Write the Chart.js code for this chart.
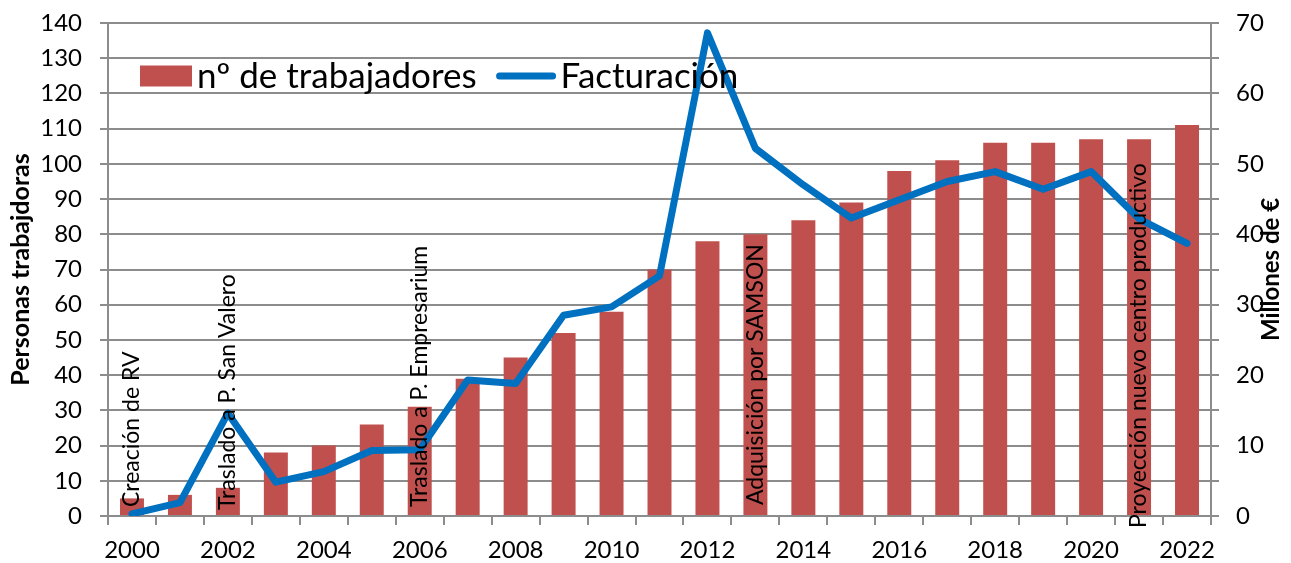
<!DOCTYPE html>
<html>
<head>
<meta charset="utf-8">
<script src="https://cdn.jsdelivr.net/npm/chart.js@4/dist/chart.umd.min.js"></script>
<style>
  html, body { margin: 0; padding: 0; background: #ffffff; }
  #wrap { width: 1291px; height: 563px; }
</style>
</head>
<body>
<div id="wrap"><canvas id="c" width="1291" height="563"></canvas></div>
<script>
// ---- data ----
const years = ['2000','2001','2002','2003','2004','2005','2006','2007','2008','2009','2010','2011',
               '2012','2013','2014','2015','2016','2017','2018','2019','2020','2021','2022'];
const trabajadores = [5, 6, 8, 18, 20, 26, 31, 39, 45, 52, 58, 70, 78, 80, 84, 89, 98, 101, 106, 106, 107, 107, 111];
const facturacion = [0.3, 1.9, 14.6, 4.8, 6.3, 9.3, 9.4, 19.3, 18.8, 28.5, 29.7, 34.1, 68.6, 52.2, 47.0, 42.3, 44.9, 47.5, 48.9, 46.4, 48.9, 42.2, 38.7];
const hitosYears = ['2000', '2002', '2006', '2013', '2021'];
const hitosTexts = ['Creación de RV', 'Traslado a P. San Valero', 'Traslado a P. Empresarium', 'Adquisición por SAMSON', 'Proyección nuevo centro productivo'];
const leftTicks = [0, 10, 20, 30, 40, 50, 60, 70, 80, 90, 100, 110, 120, 130, 140];
const rightTicks = [0, 10, 20, 30, 40, 50, 60, 70];
const seriesNames = ['nº de trabajadores', 'Facturación'];
const axisTitles = ['Personas trabajdoras', 'Millones de €'];

// ---- styles ----
const FONT = 'Lato, "Open Sans", sans-serif';
const GRID = '#8c8c8c';
const BAR = '#C0504D';
const LINE = '#0070C0';

const annotationPlugin = {
  id: 'hitos',
  afterDatasetsDraw(chart, args, opts) {
    const ctx = chart.ctx;
    const x = chart.scales.x, y = chart.scales.y;
    ctx.save();
    ctx.font = opts.font;
    ctx.fillStyle = '#000';
    ctx.textAlign = 'left';
    ctx.textBaseline = 'middle';
    hitosYears.forEach((yr, i) => {
      const px = x.getPixelForValue(years.indexOf(yr));
      const py = y.getPixelForValue(0) + opts.offsets[i];
      ctx.save();
      ctx.translate(px, py);
      ctx.rotate(-Math.PI / 2);
      ctx.fillText(hitosTexts[i], 0, 0);
      ctx.restore();
    });
    ctx.restore();
  }
};

const overlayPlugin = {
  id: 'overlay',
  afterDraw(chart, args, opts) {
    const ctx = chart.ctx;
    const ca = chart.chartArea;
    ctx.save();
    ctx.font = opts.titleFont;
    ctx.fillStyle = '#000';
    ctx.textAlign = 'center';
    ctx.textBaseline = 'middle';
    ctx.translate(opts.rightTitleX, (ca.top + ca.bottom) / 2);
    ctx.rotate(-Math.PI / 2);
    ctx.fillText(axisTitles[1], 0, 0);
    ctx.restore();

    ctx.save();
    const ds = chart.data.datasets;
    const ly = opts.legendY;
    let lx = ca.left + opts.legendX;
    ctx.font = opts.legendFont;
    ctx.textBaseline = 'middle';
    ctx.textAlign = 'left';
    ctx.fillStyle = ds[1].backgroundColor;
    ctx.fillRect(lx, ly - 10.5, 52, 21);
    lx += 57;
    ctx.fillStyle = '#000';
    ctx.fillText(ds[1].label, lx, ly + 1);
    lx += ctx.measureText(ds[1].label).width + 23;
    ctx.strokeStyle = ds[0].borderColor;
    ctx.lineWidth = 7;
    ctx.lineCap = 'round';
    ctx.beginPath();
    ctx.moveTo(lx, ly);
    ctx.lineTo(lx + 53, ly);
    ctx.stroke();
    lx += 61;
    ctx.fillStyle = '#000';
    ctx.fillText(ds[0].label, lx, ly + 1);
    ctx.restore();
  }
};

function noVerticalPadding(scale) {
  scale.paddingTop = 0;
  scale.paddingBottom = 0;
}

new Chart(document.getElementById('c'), {
  type: 'bar',
  data: {
    labels: years,
    datasets: [
      {
        type: 'line',
        label: seriesNames[1],
        data: facturacion,
        yAxisID: 'y1',
        borderColor: LINE,
        backgroundColor: LINE,
        borderWidth: 7,
        borderJoinStyle: 'round',
        borderCapStyle: 'round',
        pointRadius: 0,
        tension: 0,
        order: 0
      },
      {
        type: 'bar',
        label: seriesNames[0],
        data: trabajadores,
        yAxisID: 'y',
        backgroundColor: BAR,
        barPercentage: 0.5,
        categoryPercentage: 1.0,
        order: 1
      }
    ]
  },
  options: {
    responsive: false,
    animation: false,
    events: [],
    layout: { padding: { top: 23, left: 0, right: 0, bottom: 0 } },
    plugins: {
      legend: { display: false },
      tooltip: { enabled: false },
      hitos: { font: '23px ' + FONT, offsets: [-9, -6, -9, -11, 12] },
      overlay: {
        titleFont: 'bold 24px ' + FONT,
        rightTitleX: 1271,
        legendFont: '35px ' + FONT,
        legendX: 32,
        legendY: 76
      }
    },
    scales: {
      x: {
        type: 'category',
        offset: true,
        grid: {
          offset: true,
          drawOnChartArea: false,
          drawTicks: true,
          tickLength: 9,
          color: GRID,
          lineWidth: 2
        },
        border: { display: true, color: GRID, width: 2 },
        ticks: {
          autoSkip: false,
          maxRotation: 0,
          minRotation: 0,
          padding: 11,
          color: '#000',
          font: { family: FONT, size: 24 },
          callback: function(v, i) { return i % 2 === 0 ? years[i] : ''; }
        },
        afterFit(scale) { scale.height = 47; }
      },
      y: {
        position: 'left',
        min: leftTicks[0],
        max: leftTicks[leftTicks.length - 1],
        afterBuildTicks(scale) { scale.ticks = leftTicks.map(v => ({ value: v })); },
        grid: {
          drawOnChartArea: true,
          drawTicks: true,
          tickLength: 8,
          color: GRID,
          lineWidth: 2
        },
        border: { display: true, color: GRID, width: 2 },
        ticks: {
          padding: 18,
          color: '#000',
          font: { family: FONT, size: 24 }
        },
        title: {
          display: true,
          text: axisTitles[0],
          color: '#000',
          font: { family: FONT, size: 25, weight: 'bold' },
          padding: { top: 6, bottom: 0 }
        },
        afterFit(scale) { scale.width = 108; noVerticalPadding(scale); }
      },
      y1: {
        position: 'right',
        min: rightTicks[0],
        max: rightTicks[rightTicks.length - 1],
        afterBuildTicks(scale) {
          const t = [];
          for (let v = rightTicks[0]; v <= rightTicks[rightTicks.length - 1]; v += 5) t.push({ value: v });
          scale.ticks = t;
        },
        grid: {
          drawOnChartArea: false,
          drawTicks: true,
          tickLength: 8,
          color: GRID,
          lineWidth: 2
        },
        border: { display: true, color: GRID, width: 2 },
        ticks: {
          padding: 17,
          color: '#000',
          font: { family: FONT, size: 24 },
          callback: function(v) { return rightTicks.includes(v) ? String(v) : ''; }
        },
        afterFit(scale) { scale.width = 80; noVerticalPadding(scale); }
      }
    }
  },
  plugins: [annotationPlugin, overlayPlugin]
});
</script>
</body>
</html>
